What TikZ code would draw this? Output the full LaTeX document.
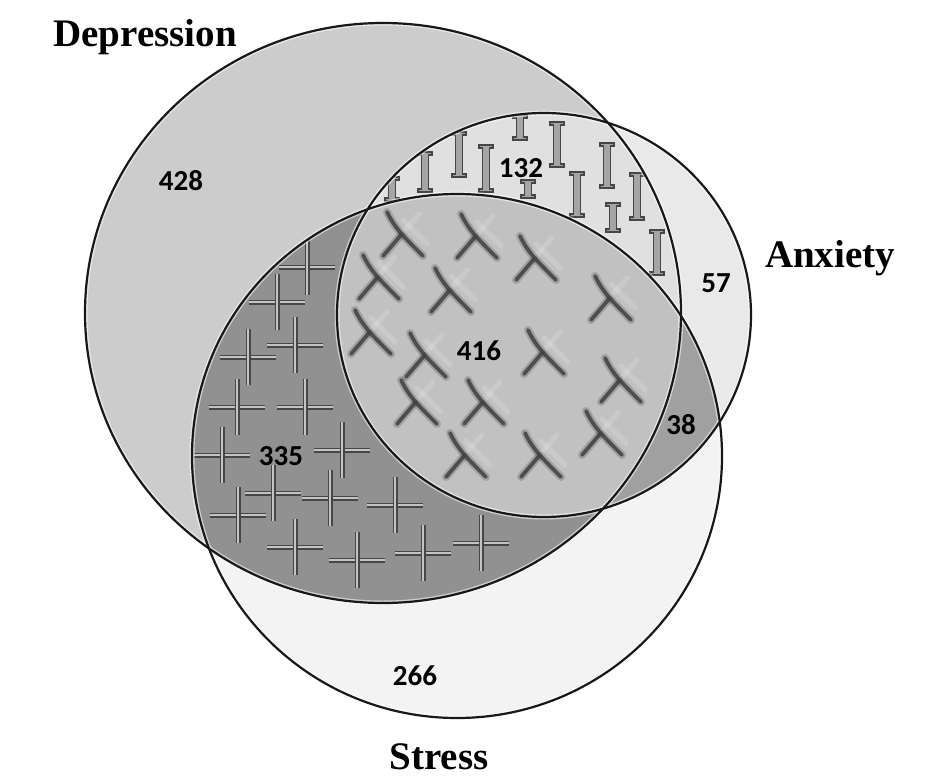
\documentclass[tikz,border=0pt]{standalone}
\usepackage{fontspec}
\setmainfont{Liberation Serif}
\newfontfamily\numfont{Carlito}
\usepackage{tikz}
\definecolor{cLine}{RGB}{24,24,24}
\definecolor{cD}{RGB}{204,204,204}
\definecolor{cA}{RGB}{233,233,233}
\definecolor{cS}{RGB}{243,243,243}
\definecolor{cDA}{RGB}{224,224,224}
\definecolor{cDS}{RGB}{145,145,145}
\definecolor{cAS}{RGB}{160,160,160}
\definecolor{cDAS}{RGB}{193,193,193}
\definecolor{cMark}{RGB}{70,70,70}
\definecolor{cMarkIn}{RGB}{196,196,196}
\definecolor{cBeam}{RGB}{165,165,165}

\begin{document}
\begin{tikzpicture}[x=1pt, y=-1pt,
    outline/.style={draw=cLine, line width=2.2pt},
    halo/.style={draw=white, opacity=.55, line width=5pt},
    setlabel/.style={font=\fontsize{39}{39}\selectfont\bfseries, anchor=base},
    count/.style={font=\numfont\fontsize{29}{29}\selectfont\bfseries},
    plusmark/.style={draw=cMark, double=cMarkIn, double distance=2.2pt, line width=1.4pt},
    beam/.style={draw=cMark, fill=cBeam, line width=1.2pt},
    xblur/.style={draw=black, opacity=.16, line width=8pt, line cap=round},
    xstroke/.style={draw=black!75, opacity=.85, line width=3.8pt, line cap=round},
    xlight/.style={draw=white, opacity=.16, line width=5pt, line cap=round}]
    \useasboundingbox (0,0) rectangle (945,784);
    \def\depr{(383,313) ellipse [x radius=298pt, y radius=290pt]}
    \def\anx{(544,315) ellipse [x radius=207pt, y radius=202pt]}
    \def\strs{(457,456) ellipse [x radius=265pt, y radius=262pt]}

    % single sets
    \fill[cD] \depr;
    \fill[cA] \anx;
    \fill[cS] \strs;

    % depression and anxiety
    \begin{scope}
        \clip \depr;
        \fill[cDA] \anx;
        \clip \anx;
        \foreach \x/\ya/\yb in {392/177/201, 425/152/192, 459/132/177, 486/145/192,
                                520/115/140, 528/180/198, 557/122/167, 577/172/217,
                                607/143/188, 613/203/232, 637/173/220, 657/230/275}
            \filldraw[beam] (\x-7,\ya) -- (\x+7,\ya) -- (\x+7,\ya+3) -- (\x+3.5,\ya+3)
                -- (\x+3.5,\yb-3) -- (\x+7,\yb-3) -- (\x+7,\yb) -- (\x-7,\yb)
                -- (\x-7,\yb-3) -- (\x-3.5,\yb-3) -- (\x-3.5,\ya+3) -- (\x-7,\ya+3) -- cycle;
    \end{scope}

    % anxiety and stress
    \begin{scope}
        \clip \anx;
        \fill[cAS] \strs;
    \end{scope}

    % depression and stress
    \begin{scope}
        \clip \depr;
        \fill[cDS] \strs;
        \clip \strs;
        \foreach \x/\y in {307/267, 277/302, 295/345, 248/357, 237/407, 305/407,
                           222/455, 342/450, 273/493, 330/498, 395/505, 238/515,
                           295/547, 357/560, 423/553, 481/543} {
            \draw[plusmark] (\x-28,\y) -- (\x+28,\y);
            \draw[plusmark] (\x,\y-28) -- (\x,\y+28);
        }
    \end{scope}

    % all three
    \begin{scope}
        \clip \depr;
        \clip \anx;
        \fill[cDAS] \strs;
        \clip \strs;
        \foreach \x/\y in {401/234, 475/236, 534/258, 377/277, 449/290, 609/298,
                           369/332, 424/355, 542/352, 619/380, 415/402, 482/402,
                           600/433, 464/455, 539/455} {
            \draw[xlight] (\x+2,\y-2) -- (\x+18,\y-20);
            \draw[xlight] (\x+2,\y-14) -- (\x+26,\y+10);
            \draw[xblur] (\x-14,\y-22) .. controls (\x-6,\y-6) and (\x,\y) .. (\x+22,\y+22);
            \draw[xblur] (\x-18,\y+22) -- (\x,\y+1);
            \draw[xstroke] (\x-14,\y-22) .. controls (\x-6,\y-6) and (\x,\y) .. (\x+22,\y+22);
            \draw[xstroke] (\x-18,\y+22) -- (\x,\y+1);
        }
    \end{scope}

    % outlines
    \draw[halo] \depr;
    \draw[halo] \anx;
    \draw[halo] \strs;
    \draw[outline] \depr;
    \draw[outline] \anx;
    \draw[outline] \strs;

    % counts
    \node[count] (nD)   at (181,181) {428};
    \node[count] (nDA)  at (521,168) {132};
    \node[count] (nA)   at (716,283) {57};
    \node[count] (nDAS) at (479,351) {416};
    \node[count] (nAS)  at (681,425) {38};
    \node[count] (nDS)  at (281,456) {335};
    \node[count] (nS)   at (415,676) {266};

    % set names
    \node[setlabel] (lD) at (145,47)  {Depression};
    \node[setlabel] (lA) at (830,267) {Anxiety};
    \node[setlabel] (lS) at (439,769) {Stress};
\end{tikzpicture}
\end{document}
